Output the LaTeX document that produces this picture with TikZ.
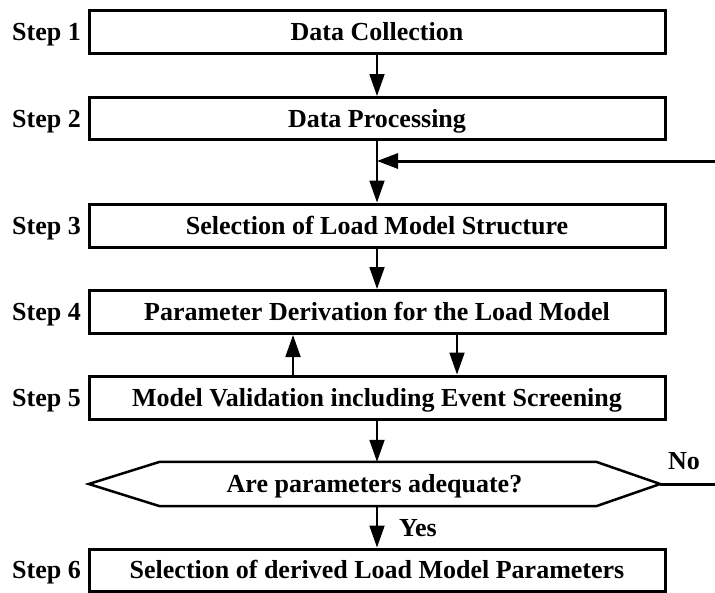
\documentclass[tikz,border=0pt]{standalone}
\usepackage{fontspec}
\setmainfont{Liberation Serif}
\usetikzlibrary{arrows.meta}
\begin{document}
\begin{tikzpicture}[x=1pt,y=-1pt,
  every node/.style={font=\fontsize{26}{30}\selectfont\bfseries,text height=17.5pt,text depth=0pt},
  stepbox/.style={draw,line width=3pt,minimum width=576pt,inner sep=0pt,anchor=center},
  steplabel/.style={anchor=east,inner sep=0pt},
  arr/.style={line width=1.8pt,-{Triangle[length=22pt,width=15pt]}},
  fbline/.style={line width=3pt},
  fbarr/.style={line width=3pt,-{Triangle[length=21pt,width=15pt]}},
  hexline/.style={line width=2.5pt,line join=miter}]
\useasboundingbox (0,0) rectangle (715,592);
% boxes
\node[stepbox,minimum height=43pt] (s1) at (377,31.5) {Data Collection};
\node[stepbox,minimum height=42pt] (s2) at (377,118.5) {Data Processing};
\node[stepbox,minimum height=43pt] (s3) at (377,225.5) {Selection of Load Model Structure};
\node[stepbox,minimum height=43pt] (s4) at (377,312) {Parameter Derivation for the Load Model};
\node[stepbox,minimum height=43pt] (s5) at (377,397.5) {Model Validation including Event Screening};
\node[stepbox,minimum height=42pt] (s6) at (377,570) {Selection of derived Load Model Parameters};
% labels
\node[steplabel] (l1) at (81,31.5) {Step 1};
\node[steplabel] (l2) at (81,118.5) {Step 2};
\node[steplabel] (l3) at (81,225.5) {Step 3};
\node[steplabel] (l4) at (81,312) {Step 4};
\node[steplabel] (l5) at (81,397.5) {Step 5};
\node[steplabel] (l6) at (81,570) {Step 6};
% decision hexagon
\node[minimum width=571pt,minimum height=44pt,inner sep=0pt] (hex) at (374.5,484) {Are parameters adequate?};
\draw[hexline] (hex.west) -- ([xshift=71pt]hex.north west) -- ([xshift=-64pt]hex.north east)
  -- (hex.east) -- ([xshift=-64pt]hex.south east) -- ([xshift=71pt]hex.south west) -- cycle;
\node (no) at (684,461) {No};
\node (yes) at (418,528) {Yes};
% connectors
\coordinate (j) at (s2.south |- 0,161);
\coordinate (fb) at (715,161);
\coordinate (noend) at (715,484);
\draw[arr] (s1.south) -- (s2.north);
\draw[arr] (s2.south) -- (s3.north);
\draw[fbarr] (fb) -- (j);
\draw[arr] (s3.south) -- (s4.north);
\draw[arr] ([xshift=-84pt]s5.north) -- ([xshift=-84pt]s4.south);
\draw[arr] ([xshift=80pt]s4.south) -- ([xshift=80pt]s5.north);
\draw[arr] (s5.south) -- (s5.south |- hex.north);
\draw[arr] (s5.south |- hex.south) -- (s6.north);
\draw[fbline] (hex.east) -- (noend);
\end{tikzpicture}
\end{document}
